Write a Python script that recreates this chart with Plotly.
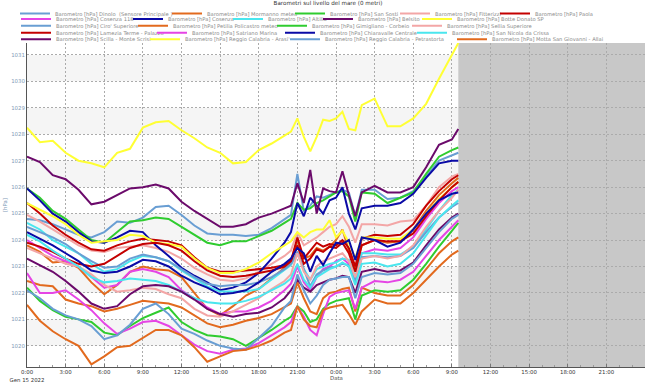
import plotly.graph_objects as go
from datetime import datetime, timedelta

# ---------------- data ----------------
hours = [0, 1, 2, 3, 4, 5, 6, 7, 8, 9, 10, 11, 12, 13, 14, 15, 16, 17, 18, 19, 20,
         20.5, 21, 21.5, 22, 22.5, 23, 23.5, 24, 24.5, 25, 25.5, 26,
         27, 28, 29, 30, 31, 32, 33, 33.5]

dinolo = [1024.8, 1024.75, 1024.6, 1024.4, 1024.2, 1024.1, 1024.3, 1024.7, 1024.65, 1024.85,
          1025.25, 1025.3, 1024.95, 1024.55, 1024.25, 1024.2, 1024.2, 1024.15, 1024.2, 1024.45, 1024.8,
          1024.95, 1026.5, 1025.1, 1025.3, 1025.65, 1025.6, 1025.7, 1025.8, 1025.9, 1025.8, 1024.9, 1025.9,
          1025.9, 1025.55, 1025.6, 1025.85, 1026.4, 1027.0, 1027.2, 1027.3]
mormanno = [1023.8, 1023.55, 1023.15, 1023.2, 1022.95, 1022.4, 1021.95, 1022.3, 1022.8, 1023.0,
            1022.9, 1022.85, 1022.6, 1022.0, 1021.4, 1021.15, 1021.5, 1021.9, 1022.15, 1022.55, 1022.95,
            1023.2, 1024.0, 1023.3, 1023.4, 1023.7, 1023.6, 1023.75, 1024.0, 1024.4, 1023.6, 1022.9, 1023.8,
            1024.0, 1023.9, 1023.95, 1024.4, 1025.1, 1025.7, 1026.15, 1026.35]
san_sosti = [1025.95, 1025.6, 1025.1, 1024.8, 1024.4, 1024.0, 1023.9, 1024.3, 1024.7, 1024.75,
             1024.85, 1024.8, 1024.5, 1024.2, 1023.9, 1023.8, 1023.95, 1023.95, 1024.15, 1024.35, 1024.65,
             1024.8, 1025.4, 1025.15, 1025.2, 1025.4, 1025.5, 1025.65, 1025.8, 1025.85, 1025.65, 1024.7, 1025.8,
             1025.75, 1025.4, 1025.6, 1025.8, 1026.5, 1027.15, 1027.4, 1027.5]
fitterizzi = [1024.95, 1024.7, 1024.4, 1024.1, 1023.8, 1023.6, 1023.55, 1023.7, 1023.75, 1023.8,
              1023.7, 1023.55, 1023.3, 1022.95, 1022.7, 1022.5, 1022.45, 1022.55, 1022.8, 1023.1, 1023.4,
              1023.6, 1024.3, 1023.8, 1023.95, 1024.1, 1024.3, 1024.5, 1024.6, 1024.9, 1024.5, 1023.9, 1024.6,
              1024.6, 1024.55, 1024.7, 1024.75, 1025.3, 1026.0, 1026.4, 1026.5]
paola = [1025.4, 1025.0, 1024.55, 1024.2, 1023.9, 1023.65, 1023.6, 1023.8, 1023.95, 1024.05,
         1024.0, 1023.95, 1023.8, 1023.35, 1022.95, 1022.8, 1022.8, 1022.85, 1022.9, 1022.95, 1023.05,
         1023.2, 1024.1, 1023.3, 1023.6, 1023.9, 1023.75, 1023.85, 1023.8, 1024.0, 1023.7, 1023.0, 1024.05,
         1024.2, 1024.15, 1024.2, 1024.6, 1025.3, 1025.85, 1026.3, 1026.45]
cosenza_118 = [1024.0, 1023.7, 1023.4, 1023.2, 1023.0, 1022.6, 1022.2, 1022.3, 1022.8, 1022.9,
               1022.8, 1022.6, 1022.1, 1021.8, 1021.45, 1021.2, 1021.3, 1021.3, 1021.45, 1021.7, 1022.1,
               1022.35, 1023.0, 1022.4, 1022.1, 1022.6, 1022.9, 1023.0, 1023.2, 1023.3, 1023.1, 1022.5, 1023.5,
               1023.65, 1023.6, 1023.7, 1024.1, 1024.8, 1025.4, 1025.85, 1026.0]
cosenza = [1025.95, 1025.5, 1025.0, 1024.7, 1024.3, 1023.95, 1023.9, 1024.1, 1024.35, 1024.3,
           1023.8, 1023.4, 1022.95, 1022.65, 1022.4, 1022.1, 1022.2, 1022.4, 1022.75, 1023.3, 1023.9,
           1024.3, 1025.4, 1024.9, 1025.6, 1025.3, 1025.0, 1025.5, 1025.6, 1026.0, 1025.0, 1024.4, 1025.2,
           1025.3, 1025.3, 1025.4, 1025.75, 1026.35, 1026.9, 1027.0, 1027.0]
altilia = [1024.65, 1024.4, 1024.0, 1023.75, 1023.5, 1023.1, 1022.8, 1022.9, 1023.2, 1023.4,
           1023.35, 1023.2, 1022.85, 1022.55, 1022.25, 1022.05, 1022.05, 1022.05, 1022.15, 1022.5, 1022.85,
           1023.05, 1023.5, 1022.9, 1022.5, 1022.9, 1023.0, 1023.1, 1023.15, 1023.3, 1023.25, 1022.6, 1023.5,
           1023.5, 1023.45, 1023.45, 1023.75, 1024.4, 1025.1, 1025.7, 1025.9]
belsito = [1027.15, 1026.95, 1026.45, 1026.3, 1025.9, 1025.35, 1025.45, 1025.7, 1025.95, 1026.0,
           1026.1, 1025.95, 1025.45, 1025.1, 1024.8, 1024.5, 1024.5, 1024.6, 1024.85, 1025.0, 1025.2,
           1025.3, 1026.15, 1025.4, 1026.65, 1025.0, 1025.95, 1025.85, 1025.8, 1026.6, 1025.7, 1024.9, 1025.8,
           1026.05, 1025.8, 1025.8, 1026.0, 1026.75, 1027.6, 1027.8, 1028.2]
botte_donato = [1025.4, 1025.15, 1024.9, 1024.6, 1024.2, 1023.9, 1023.95, 1024.0, 1024.2, 1024.15,
                1023.9, 1023.85, 1023.75, 1023.3, 1022.95, 1022.75, 1022.75, 1022.9, 1023.15, 1023.5, 1023.8,
                1023.95, 1024.3, 1024.1, 1024.3, 1024.4, 1024.4, 1024.75, 1024.1, 1024.35, 1023.9, 1023.3, 1024.1,
                1024.1, 1024.05, 1024.05, 1024.4, 1025.0, 1025.55, 1026.0, 1026.2]
ciro = [1024.5, 1024.3, 1024.1, 1023.85, 1023.5, 1023.2, 1022.95, 1023.0, 1023.3, 1023.45,
        1023.35, 1023.2, 1022.9, 1022.6, 1022.35, 1022.25, 1022.3, 1022.3, 1022.4, 1022.6, 1022.9,
        1023.1, 1023.55, 1022.9, 1022.25, 1022.7, 1022.85, 1022.95, 1023.0, 1023.1, 1023.05, 1022.4, 1023.35,
        1023.4, 1023.35, 1023.4, 1023.7, 1024.3, 1024.85, 1025.25, 1025.4]
petilia = [1022.45, 1022.3, 1022.25, 1021.75, 1021.6, 1021.5, 1021.3, 1021.4, 1021.55, 1021.7,
           1021.65, 1021.6, 1021.45, 1021.15, 1020.85, 1020.7, 1020.8, 1020.95, 1021.05, 1021.2, 1021.45,
           1021.6, 1022.4, 1021.8, 1021.3, 1021.2, 1021.8, 1022.0, 1022.05, 1022.15, 1022.2, 1021.3, 1022.2,
           1022.0, 1021.9, 1021.9, 1022.3, 1022.9, 1023.5, 1023.95, 1024.1]
gimigliano = [1022.2, 1021.7, 1021.35, 1021.1, 1021.0, 1020.9, 1020.5, 1020.4, 1020.75, 1021.05,
              1021.25, 1021.45, 1020.9, 1020.6, 1020.4, 1020.35, 1020.25, 1020.0, 1020.3, 1020.6, 1020.95,
              1021.1, 1021.5, 1021.3, 1020.9, 1021.0, 1021.4, 1021.6, 1021.7, 1021.75, 1021.8, 1021.0, 1021.9,
              1022.1, 1022.05, 1022.1, 1022.5, 1023.1, 1023.75, 1024.35, 1024.65]
sellia = [1023.7, 1023.5, 1023.3, 1023.1, 1023.0, 1022.7, 1022.3, 1022.05, 1022.1, 1022.2,
          1022.15, 1021.95, 1021.8, 1021.4, 1021.15, 1021.1, 1021.3, 1021.55, 1021.8, 1022.15, 1022.45,
          1022.7, 1023.5, 1022.8, 1022.5, 1023.0, 1023.2, 1023.3, 1023.4, 1023.5, 1023.2, 1022.6, 1023.3,
          1023.4, 1023.3, 1023.4, 1023.8, 1024.5, 1025.1, 1025.6, 1025.9]
lamezia = [1023.9, 1023.75, 1023.55, 1023.3, 1023.1, 1023.0, 1023.1, 1023.4, 1023.7, 1023.85,
           1023.9, 1023.8, 1023.6, 1023.2, 1022.85, 1022.65, 1022.6, 1022.65, 1022.75, 1022.85, 1023.0,
           1023.2, 1023.8, 1023.1, 1023.3, 1023.65, 1023.55, 1023.75, 1023.7, 1023.9, 1023.5, 1022.8, 1023.8,
           1024.0, 1023.95, 1023.95, 1024.25, 1024.9, 1025.5, 1026.0, 1026.2]
satriano = [1022.75, 1022.0, 1022.0, 1022.1, 1021.75, 1021.35, 1020.85, 1020.45, 1020.65, 1020.9,
            1020.95, 1020.75, 1020.4, 1020.05, 1019.8, 1019.7, 1019.85, 1019.9, 1020.1, 1020.4, 1020.7,
            1020.9, 1021.5, 1021.1, 1020.6, 1020.4, 1021.2, 1021.85, 1022.0, 1022.05, 1022.1, 1021.4, 1022.2,
            1022.45, 1022.4, 1022.5, 1022.8, 1023.4, 1024.0, 1024.5, 1024.75]
chiaravalle = [1024.3, 1024.05, 1023.8, 1023.5, 1023.2, 1022.85, 1022.75, 1022.8, 1023.0, 1023.25,
               1023.2, 1023.0, 1022.65, 1022.4, 1022.2, 1021.95, 1022.0, 1022.1, 1022.4, 1022.8, 1023.1,
               1023.3, 1023.7, 1023.5, 1022.8, 1023.4, 1023.05, 1023.5, 1023.9, 1023.85, 1024.0, 1023.25, 1024.1,
               1024.0, 1023.75, 1023.9, 1024.4, 1025.0, 1025.5, 1025.75, 1025.8]
san_nicola = [1024.2, 1023.95, 1023.6, 1023.3, 1023.0, 1022.6, 1022.4, 1022.45, 1022.55, 1022.5,
              1022.45, 1022.3, 1022.05, 1021.8, 1021.65, 1021.6, 1021.6, 1021.7, 1021.85, 1022.1, 1022.35,
              1022.55, 1023.1, 1022.5, 1022.2, 1022.6, 1022.75, 1022.9, 1023.0, 1023.15, 1023.0, 1022.3, 1023.1,
              1023.15, 1023.0, 1023.1, 1023.5, 1024.2, 1024.85, 1025.3, 1025.5]
scilla = [1023.3, 1023.05, 1022.8, 1022.45, 1022.05, 1021.6, 1021.4, 1021.5, 1021.95, 1022.25,
          1022.3, 1022.25, 1022.05, 1021.75, 1021.4, 1021.2, 1021.1, 1021.2, 1021.25, 1021.45, 1021.8,
          1022.1, 1022.5, 1022.2, 1022.05, 1022.3, 1022.4, 1022.5, 1022.55, 1022.65, 1022.6, 1022.0, 1022.8,
          1022.9, 1022.8, 1022.85, 1023.15, 1023.8, 1024.4, 1024.85, 1025.0]
arasi = [1028.25, 1027.7, 1027.75, 1027.3, 1027.0, 1026.9, 1026.75, 1027.3, 1027.45, 1028.25,
         1028.45, 1028.5, 1028.15, 1027.85, 1027.5, 1027.3, 1026.9, 1026.95, 1027.4, 1027.65, 1027.95,
         1028.1, 1028.6, 1027.9, 1027.35, 1027.9, 1028.55, 1028.5, 1028.6, 1028.85, 1028.2, 1028.15, 1029.1,
         1029.35, 1028.3, 1028.3, 1028.6, 1029.15, 1030.1, 1031.0, 1031.45]
petrastorta = [1022.1, 1021.8, 1021.4, 1021.15, 1021.0, 1020.75, 1020.25, 1020.4, 1020.8, 1021.4,
               1021.6, 1021.2, 1020.65, 1020.45, 1020.2, 1020.0, 1019.9, 1019.85, 1020.3, 1020.75, 1021.45,
               1021.7, 1022.7, 1022.1, 1021.6, 1021.9, 1022.3, 1022.5, 1022.55, 1022.6, 1022.6, 1021.8, 1022.6,
               1022.75, 1022.7, 1022.75, 1023.1, 1023.7, 1024.3, 1024.8, 1024.95]
motta = [1021.55, 1020.95, 1020.55, 1020.25, 1020.0, 1019.3, 1019.6, 1019.95, 1020.0, 1020.3,
         1020.6, 1020.6, 1020.4, 1019.95, 1019.4, 1019.6, 1019.8, 1019.85, 1020.0, 1020.2, 1020.5,
         1020.6, 1021.5, 1021.0, 1020.75, 1020.7, 1021.35, 1021.45, 1021.5, 1021.55, 1021.2, 1020.8, 1021.3,
         1021.75, 1021.6, 1021.6, 1022.0, 1022.5, 1023.0, 1023.45, 1023.6]

station_names = [
    "Dinolo  (Sensore Principale )", "Mormanno meteo", "San Sosti", "Fitterizzi", "Paola",
    "Cosenza 118", "Cosenza", "Altilia", "Belsito", "Botte Donato SP",
    "Ciro' Superiore", "Petilia Policastro meteo", "Gimigliano - Corbeio", "Sellia Superiore",
    "Lamezia Terme - Palazzo", "Satriano Marina", "Chiaravalle Centrale", "San Nicola da Crissa",
    "Scilla - Monte Scrisi", "Reggio Calabria - Arasi'", "Reggio Calabria - Petrastorta",
    "Motta San Giovanni - Allai",
]
station_values = [dinolo, mormanno, san_sosti, fitterizzi, paola,
                  cosenza_118, cosenza, altilia, belsito, botte_donato,
                  ciro, petilia, gimigliano, sellia,
                  lamezia, satriano, chiaravalle, san_nicola,
                  scilla, arasi, petrastorta, motta]

x_tick_hours = list(range(0, 49, 3))
x_tick_text = ["0:00<br>Gen 15 2022"] + ["%d:00" % (h % 24) for h in x_tick_hours[1:]]
y_ticks = list(range(1020, 1032))

# ---------------- styling ----------------
palette = ['#699ed3', '#e26a1e', '#2fcc2f', '#f3a6a6', '#c40000',
           '#e545e5', '#0a0aa6', '#4ae6ee', '#6b0a6b', '#ffff33']
FONT = "DejaVu Sans"
W, H = 645, 384
ML, MR, MT, MB = 27, 0, 43, 17
PW, PH = W - ML - MR, H - MT - MB
# legend text start (px) and row centre (px)
legend_pos = [(50, 13.5), (202, 13.5), (325, 13.5), (430, 13.5), (530, 13.5),
              (51, 19), (163, 19), (263, 19), (353, 19), (452, 19),
              (51, 25.7), (168, 25.7), (307, 25.7), (442, 25.7),
              (51, 32.7), (187, 32.7), (315, 32.7), (447, 32.7),
              (51, 39.3), (180, 39.3), (320, 39.3), (487, 39.3)]
LEG_SHIFT = 5

start = datetime(2022, 1, 15)
times = [start + timedelta(hours=h) for h in hours]
x_end = start + timedelta(hours=48)

fig = go.Figure()
layout_legends = {}
for i, (nm, vals) in enumerate(zip(station_names, station_values)):
    key = 'legend' if i == 0 else 'legend%d' % (i + 1)
    fig.add_trace(go.Scatter(
        x=times, y=vals, mode='lines', name='Barometro [hPa] ' + nm,
        line=dict(color=palette[i % 10], width=2),
        legend=key, showlegend=True, hoverinfo='skip'))
    tx, ty = legend_pos[i]
    layout_legends[key] = dict(
        x=(tx - 40 + LEG_SHIFT) / W, y=1 - ty / H, xref='container', yref='container',
        xanchor='left', yanchor='middle', orientation='h',
        bgcolor='rgba(0,0,0,0)', borderwidth=0, itemwidth=30,
        font=dict(family=FONT, size=5.2, color='#8a8a8a'))

shapes = []
for lo in range(1020, 1031, 2):
    shapes.append(dict(type='rect', xref='paper', x0=0, x1=1, yref='y', y0=lo, y1=lo + 1,
                       fillcolor='#f5f5f5', line=dict(width=0), layer='below'))
shapes.append(dict(type='rect', xref='x', x0=times[-1], x1=x_end, yref='paper', y0=0, y1=1,
                   fillcolor='#c8c8c8', line=dict(width=0), layer='below'))

fig.update_layout(
    width=W, height=H, showlegend=True,
    margin=dict(l=ML, r=MR, t=MT, b=MB, autoexpand=False),
    paper_bgcolor='white', plot_bgcolor='white',
    font=dict(family=FONT, size=5.4, color='#333'),
    hovermode=False,
    title=dict(text='Barometri sul livello del mare (0 metri)', x=328 / W, xref='container',
               y=1 - 3.5 / H, yref='container', xanchor='center', yanchor='middle',
               font=dict(family=FONT, size=5.6, color='#333')),
    shapes=shapes,
    xaxis=dict(type='date', range=[start, x_end],
               tickmode='array', tickvals=[start + timedelta(hours=h) for h in x_tick_hours],
               ticktext=x_tick_text, tickfont=dict(family=FONT, size=5.4, color='#333'),
               ticks='inside', ticklen=3, tickcolor='#777',
               minor=dict(ticks='inside', ticklen=2, tickcolor='#999',
                          tickvals=[start + timedelta(hours=h) for h in range(0, 49)]),
               showgrid=True, gridcolor='#ababab', griddash='2px,2px', gridwidth=1,
               showline=True, linecolor='#555', linewidth=1, zeroline=False),
    yaxis=dict(range=[1019.2, 1031.45], tickmode='array', tickvals=y_ticks,
               tickfont=dict(family=FONT, size=5.4, color='#7f9bb8'),
               showgrid=True, gridcolor='#ababab', griddash='2px,2px', gridwidth=1,
               showline=True, linecolor='#555', linewidth=1, zeroline=False, ticks=''),
    annotations=[
        dict(text='Data', xref='paper', x=0.5, yref='paper', y=(H - MB - 378) / PH,
             showarrow=False, xanchor='center', yanchor='middle',
             font=dict(family=FONT, size=5.4, color='#555')),
        dict(text='[hPa]', xref='paper', x=(5 - ML) / PW, yref='paper', y=0.5, textangle=-90,
             showarrow=False, xanchor='center', yanchor='middle',
             font=dict(family=FONT, size=5.4, color='#7f9bb8')),
    ],
    **layout_legends,
)

fig.write_html("out.html", config={'displayModeBar': False},
               post_script="document.body.style.margin='0px';")
